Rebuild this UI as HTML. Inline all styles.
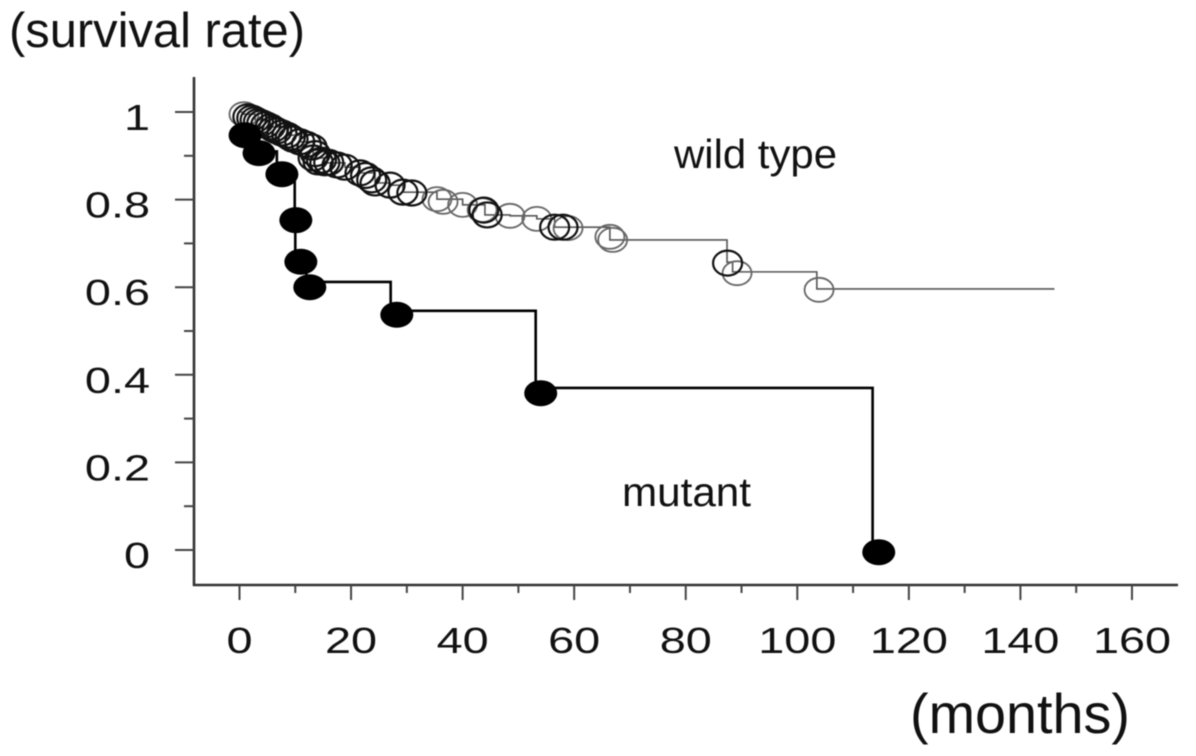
<!DOCTYPE html>
<html lang="en">
<head>
<meta charset="utf-8">
<title>Survival rate by months</title>
<style>
html,body{margin:0;padding:0;background:#fff;width:1196px;height:756px;overflow:hidden}
svg{display:block;font-family:"Liberation Sans",Arial,sans-serif;fill:#111;filter:blur(0.5px)}
</style>
</head>
<body>
<svg id="chart" xmlns="http://www.w3.org/2000/svg" width="1196" height="756" viewBox="0 0 1196 756">
  <rect x="0" y="0" width="1196" height="756" fill="#ffffff"/>
  <text x="9" y="47" font-size="49" textLength="296" lengthAdjust="spacingAndGlyphs">(survival rate)</text>
  <text x="910" y="733" font-size="56" textLength="220" lengthAdjust="spacingAndGlyphs">(months)</text>
  <text x="674" y="168" font-size="41" textLength="163" lengthAdjust="spacingAndGlyphs">wild type</text>
  <text x="622" y="506" font-size="41" textLength="129" lengthAdjust="spacingAndGlyphs">mutant</text>
  <g id="axes"></g>
  <g id="marks"></g>
</svg>
<script>
const xMajorTicks = [0, 20, 40, 60, 80, 100, 120, 140, 160];
const xMinorTicks = [10, 30, 50, 70, 90, 110, 130, 150];
const yMajorTicks = [0, 0.2, 0.4, 0.6, 0.8, 1];
const yMinorTicks = [0.1, 0.3, 0.5, 0.7, 0.9];
const yTickLabels = ['0', '0.2', '0.4', '0.6', '0.8', '1'];
const xTickLabels = ['0', '20', '40', '60', '80', '100', '120', '140', '160'];

const wildStepMonths = [0, 0.8, 2.8, 5.5, 8.5, 10.8, 13.2, 15.3, 18.9, 21.6, 24.3, 27, 29.3, 35.4, 40, 44, 48.5, 53.3, 56.5, 66.4, 87.4, 88.4, 103.5];
const wildStepSurvival = [1, 0.995, 0.982, 0.966, 0.947, 0.932, 0.895, 0.884, 0.874, 0.861, 0.838, 0.833, 0.817, 0.801, 0.788, 0.765, 0.763, 0.756, 0.737, 0.708, 0.657, 0.635, 0.596];
const wildStepEndMonth = 146.1;

const wildThinMonths = [0.8, 35.4, 36.5, 40, 43.5, 48.5, 53.3, 58.9, 66.4, 66.9, 89.2, 103.9];
const wildThinSurvival = [0.995, 0.801, 0.795, 0.788, 0.776, 0.763, 0.756, 0.735, 0.715, 0.708, 0.632, 0.594];

const wildBoldMonths = [1.5, 2.2, 2.8, 3.4, 4, 4.7, 5.5, 6.1, 6.7, 7.6, 8.5, 9.1, 9.6, 10.8, 12, 13, 13.2, 13.6, 14.1, 14.7, 15.3, 16, 17.5, 18.9, 21.6, 22.6, 23.7, 24.3, 27, 29.3, 30.9, 43.8, 44.4, 56.5, 58, 87.5];
const wildBoldSurvival = [0.989, 0.986, 0.982, 0.978, 0.975, 0.971, 0.966, 0.961, 0.957, 0.952, 0.947, 0.942, 0.938, 0.932, 0.926, 0.92, 0.895, 0.905, 0.886, 0.89, 0.884, 0.885, 0.879, 0.874, 0.861, 0.855, 0.845, 0.838, 0.833, 0.817, 0.815, 0.776, 0.765, 0.737, 0.737, 0.655];

const mutantStepMonths = [0, 3, 6.7, 9.9, 10, 12, 27.1, 53.1, 113.5];
const mutantStepSurvival = [0.95, 0.91, 0.865, 0.76, 0.66, 0.612, 0.546, 0.37, 0];
const mutantEventMonths = [1, 3.5, 7.6, 10.1, 11, 12.6, 28.2, 54, 114.6];
const mutantEventSurvival = [0.947, 0.906, 0.858, 0.753, 0.658, 0.6, 0.537, 0.358, -0.005];

const SVG_NS = 'http://www.w3.org/2000/svg';
const xScale = function (m) { return 239.5 + m * 5.578; };
const yScale = function (s) { return 550 - s * 438; };

function make(tag, attrs, parent) {
  const el = document.createElementNS(SVG_NS, tag);
  Object.keys(attrs).forEach(function (k) { el.setAttribute(k, attrs[k]); });
  parent.appendChild(el);
  return el;
}

const axes = document.getElementById('axes');
const marks = document.getElementById('marks');

const ySpine = make('line', { x1: 194, x2: 194, y1: 77, y2: 586, stroke: '#333', 'stroke-width': 2.6 }, axes);


const xSpine = make('line', { x1: 193, x2: 1178, y1: 585, y2: 585, stroke: '#333', 'stroke-width': 2.6 }, axes);



yMajorTicks.forEach(function (v, i) {
  const t = make('line', { x1: 175, x2: 194, y1: yScale(v), y2: yScale(v), stroke: '#444', 'stroke-width': 2 }, axes);
  
  
  const l = make('text', { transform: 'translate(150,' + (yScale(v) + 18) + ') scale(1.3,1)', 'font-size': 36, 'text-anchor': 'end' }, axes);
  
  
  l.textContent = yTickLabels[i];
});
yMinorTicks.forEach(function (v) {
  const t = make('line', { x1: 184, x2: 194, y1: yScale(v), y2: yScale(v), stroke: '#444', 'stroke-width': 2 }, axes);
  
  
});
xMajorTicks.forEach(function (v, i) {
  const t = make('line', { x1: xScale(v), x2: xScale(v), y1: 585, y2: 600, stroke: '#444', 'stroke-width': 2 }, axes);
  
  
  const l = make('text', { transform: 'translate(' + xScale(v) + ',653) scale(1.3,1)', 'font-size': 36, 'text-anchor': 'middle' }, axes);
  
  
  l.textContent = xTickLabels[i];
});
xMinorTicks.forEach(function (v) {
  const t = make('line', { x1: xScale(v), x2: xScale(v), y1: 585, y2: 593, stroke: '#444', 'stroke-width': 2 }, axes);
  
  
});

function stepPath(months, survival, endMonth) {
  let d = 'M' + xScale(months[0]) + ' ' + yScale(survival[0]);
  for (let i = 1; i < months.length; i++) {
    d += 'H' + xScale(months[i]) + 'V' + yScale(survival[i]);
  }
  if (endMonth !== undefined) d += 'H' + xScale(endMonth);
  return d;
}

const wildLine = make('path', { d: stepPath(wildStepMonths, wildStepSurvival, wildStepEndMonth), fill: 'none', stroke: '#555', 'stroke-width': 1.6 }, marks);



wildThinMonths.forEach(function (m, i) {
  const c = make('ellipse', { cx: xScale(m), cy: yScale(wildThinSurvival[i]), rx: 14.5, ry: 12, fill: 'none', stroke: '#666', 'stroke-width': 1.8 }, marks);
  
  
});
wildBoldMonths.forEach(function (m, i) {
  const c = make('ellipse', { cx: xScale(m), cy: yScale(wildBoldSurvival[i]), rx: 14.5, ry: 12.5, fill: 'none', stroke: '#111', 'stroke-width': 2.2 }, marks);
  
  
});

const mutantLine = make('path', { d: stepPath(mutantStepMonths, mutantStepSurvival), fill: 'none', stroke: '#000', 'stroke-width': 2.6 }, marks);



mutantEventMonths.forEach(function (m, i) {
  const c = make('ellipse', { cx: xScale(m), cy: yScale(mutantEventSurvival[i]), rx: 16.5, ry: 13, fill: '#000' }, marks);
  
  
});
</script>
</body>
</html>
